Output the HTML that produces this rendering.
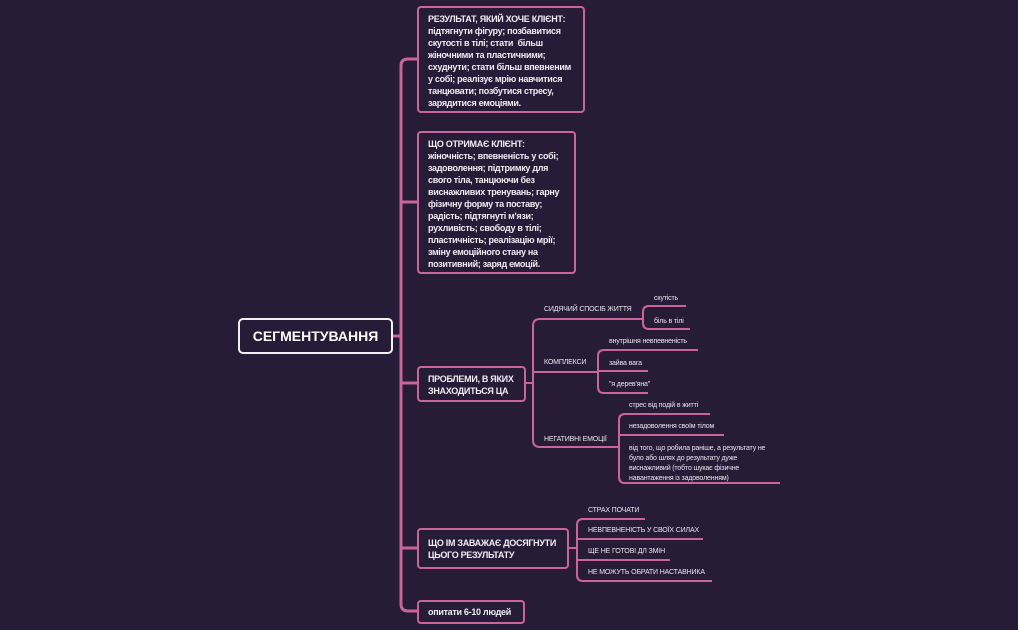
<!DOCTYPE html>
<html><head><meta charset="utf-8"><style>
body{margin:0;background:#271c38;width:1018px;height:630px;overflow:hidden;position:relative;font-family:"Liberation Sans","DejaVu Sans",sans-serif;color:#fff}
.b{position:absolute;border:2px solid #c9659a;border-radius:4px;box-sizing:border-box;font-weight:bold;font-size:9px;letter-spacing:-0.3px;line-height:12px;padding:5px 9px;color:#f1ecf4;white-space:nowrap}
.t{position:absolute;font-size:7px;letter-spacing:-0.15px;color:#ece6f0;white-space:nowrap;line-height:10px}
svg{position:absolute;left:0;top:0}
</style></head><body>
<svg width="1018" height="630" fill="none" stroke="#c9659a" stroke-width="2">
<g stroke-width="3">
<path d="M392 336 H401"/>
<path d="M417 59 H408 Q401 59 401 66 V604 Q401 611 408 611 H417"/>
<path d="M401 202 H417 M401 383 H417 M401 548 H417"/>
</g>
<path d="M525 383 H533"/>
<path d="M640 319 H540 Q533 319 533 326 V440 Q533 447 540 447 H617"/>
<path d="M533 372 H597"/>
<path d="M686 306 H649 Q643 306 643 312 V323 Q643 329 649 329 H690 M640 319 H643"/>
<path d="M698 350 H604 Q598 350 598 356 V387 Q598 393 604 393 H648 M598 371 H648 M597 372 H598"/>
<path d="M710 414 H625 Q619 414 619 420 V477 Q619 483 625 483 H780 M619 435 H724 M617 447 H619"/>
<path d="M568 548 H577"/>
<path d="M645 519 H583 Q577 519 577 525 V575 Q577 581 583 581 H712 M577 539 H703 M577 560 H670"/>
</svg>
<div class="b" style="left:238px;top:318px;width:155px;height:36px;border-color:#f0f0f0;border-radius:5px;font-size:14px;letter-spacing:0;line-height:14px;padding:9px 0;text-align:center;color:#fff">СЕГМЕНТУВАННЯ</div>
<div class="b" style="left:417px;top:6px;width:168px;height:107px">РЕЗУЛЬТАТ, ЯКИЙ ХОЧЕ КЛІЄНТ:<br>підтягнути фігуру; позбавитися<br>скутості в тілі; стати &nbsp;більш<br>жіночними та пластичними;<br>схуднути; стати більш впевненим<br>у собі; реалізує мрію навчитися<br>танцювати; позбутися стресу,<br>зарядитися емоціями.</div>
<div class="b" style="left:417px;top:131px;width:159px;height:143px">ЩО ОТРИМАЄ КЛІЄНТ:<br>жіночність; впевненість у собі;<br>задоволення; підтримку для<br>свого тіла, танцюючи без<br>виснажливих тренувань; гарну<br>фізичну форму та поставу;<br>радість; підтягнуті м'язи;<br>рухливість; свободу в тілі;<br>пластичність; реалізацію мрії;<br>зміну емоційного стану на<br>позитивний; заряд емоцій.</div>
<div class="b" style="left:417px;top:366px;width:109px;height:36px;padding-top:5px">ПРОБЛЕМИ, В ЯКИХ<br>ЗНАХОДИТЬСЯ ЦА</div>
<div class="b" style="left:417px;top:528px;width:152px;height:41px;padding-top:7px">ЩО ІМ ЗАВАЖАЄ ДОСЯГНУТИ<br>ЦЬОГО РЕЗУЛЬТАТУ</div>
<div class="b" style="left:417px;top:600px;width:108px;height:24px;padding-top:4px">опитати 6-10 людей</div>
<div class="t" style="left:544px;top:305px">СИДЯЧИЙ СПОСІБ ЖИТТЯ</div>
<div class="t" style="left:654px;top:294px">скутість</div>
<div class="t" style="left:654px;top:317px">біль в тілі</div>
<div class="t" style="left:544px;top:358px">КОМПЛЕКСИ</div>
<div class="t" style="left:609px;top:337px">внутрішня невпевненість</div>
<div class="t" style="left:609px;top:359px">зайва вага</div>
<div class="t" style="left:609px;top:380px">"я дерев'яна"</div>
<div class="t" style="left:544px;top:435px">НЕГАТИВНІ ЕМОЦІЇ</div>
<div class="t" style="left:629px;top:401px">стрес від подій в житті</div>
<div class="t" style="left:629px;top:422px">незадоволення своїм тілом</div>
<div class="t" style="left:629px;top:444px">від того, що робила раніше, а результату не<br>було або шлях до результату дуже<br>виснажливий (тобто шукає фізичне<br>навантаження із задоволенням)</div>
<div class="t" style="left:588px;top:506px">СТРАХ ПОЧАТИ</div>
<div class="t" style="left:588px;top:526px">НЕВПЕВНЕНІСТЬ У СВОЇХ СИЛАХ</div>
<div class="t" style="left:588px;top:547px">ЩЕ НЕ ГОТОВІ ДЛ ЗМІН</div>
<div class="t" style="left:588px;top:568px">НЕ МОЖУТЬ ОБРАТИ НАСТАВНИКА</div>
</body></html>
